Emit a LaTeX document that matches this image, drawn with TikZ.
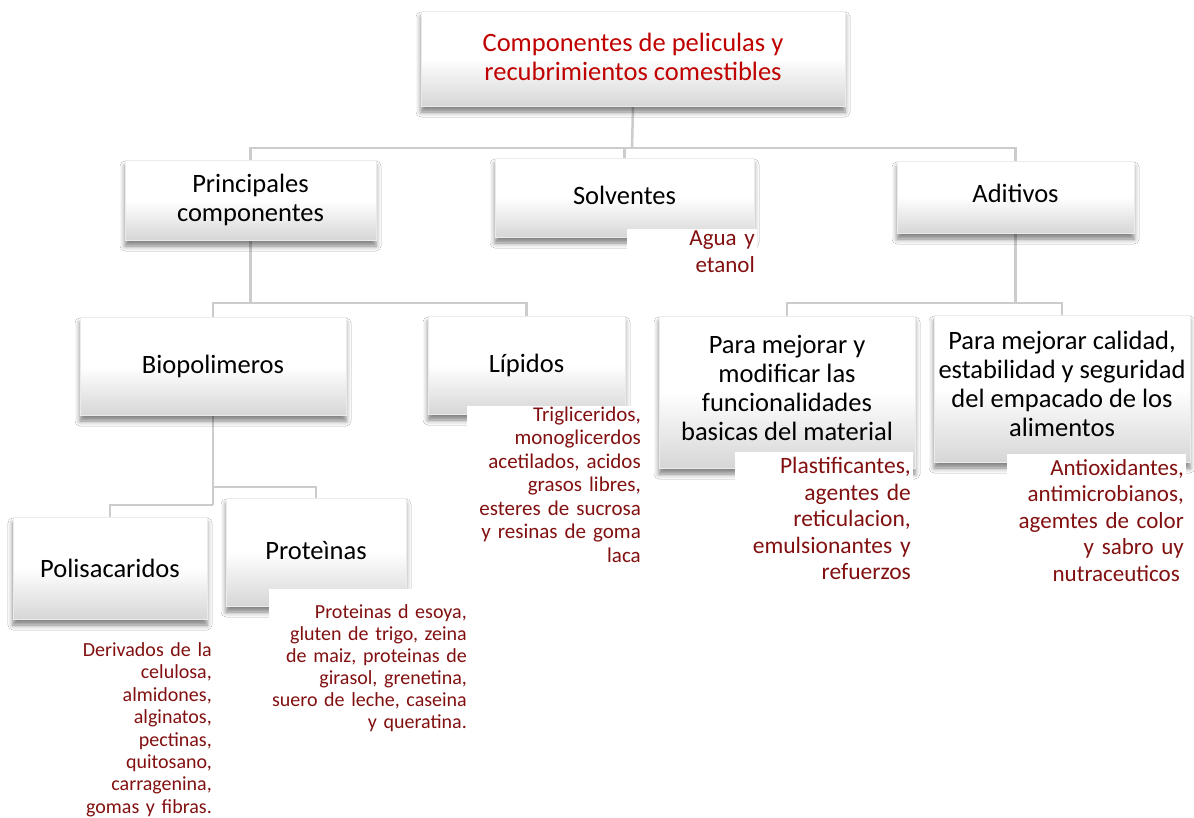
\documentclass[tikz,border=0pt]{standalone}
\usepackage{fontspec}
\setmainfont{Carlito}
\usetikzlibrary{shadows.blur, backgrounds}
\definecolor{rojo}{RGB}{192,0,0}
\definecolor{vino}{RGB}{130,16,16}
\newcommand{\letra}[2]{\fontsize{#1}{#2}\selectfont}
\newcommand{\subir}[1]{\rule[-#1]{0pt}{0pt}} % extra depth lifts the text a little
\tikzstyle{caja} = [rectangle, draw=black!8, top color=white, bottom color=black!16,
middle color=white, blur shadow={shadow xshift=0pt, shadow yshift=-6pt,
shadow blur radius=5pt, shadow opacity=50}, inner sep=2pt, align=center, font=\letra{26.5}{29}]
\tikzstyle{nota} = [rectangle, fill=white, text=vino, align=right, inner xsep=2pt, anchor=north east]
\tikzstyle{linea} = [line width=2.5pt, draw=black!20]

\begin{document}
\begin{tikzpicture}[x=1pt, y=-1pt]
        \useasboundingbox (0,0) rectangle (1194,817);

        % first levels
        \node (comp) [caja, minimum width=424pt, minimum height=95pt, text=rojo] at (633,58.5) {Componentes de peliculas y\\ recubrimientos comestibles\subir{4pt}};
        \node (prin) [caja, minimum width=251pt, minimum height=80pt] at (250.5,200) {Principales\\ componentes};
        \node (solv) [caja, minimum width=259pt, minimum height=79pt] at (624.5,197.5) {Solventes\subir{4pt}};
        \node (adit) [caja, minimum width=237pt, minimum height=72pt] at (1015.5,197) {Aditivos\subir{8pt}};

        \node (bio) [caja, minimum width=266pt, minimum height=98pt] at (213,366) {Biopolimeros\subir{2pt}};
        \node (lip) [caja, minimum width=197pt, minimum height=98pt] at (526.5,365) {Lípidos\subir{2pt}};
        \node (mej1) [caja, minimum width=256pt, minimum height=152pt] at (787,392) {Para mejorar y\\ modificar las\\ funcionalidades\\ basicas del material\subir{9pt}};
        \node (mej2) [caja, minimum width=256pt, minimum height=147pt] at (1062,388.5) {Para mejorar calidad,\\ estabilidad y seguridad\\ del empacado de los\\ alimentos\subir{9pt}};

        \node (pol) [caja, minimum width=194pt, minimum height=102pt] at (110,568) {Polisacaridos};
        \node (prot) [caja, minimum width=180pt, minimum height=108pt] at (316,552) {Proteìnas\subir{3pt}};

        % connectors behind the boxes
        \begin{scope}[on background layer]
        \fill [white] (0,0) rectangle (1194,817);
        \coordinate (J1) at (632,148);
        \draw [linea] (comp.south) -- (J1);
        \draw [linea] (J1) -| (prin.north);
        \draw [linea] (J1) -| (solv.north);
        \draw [linea] (J1) -| (adit.north);

        \coordinate (J2) at (250.5,303);
        \draw [linea] (prin.south) -- (J2);
        \draw [linea] (J2) -| (bio.north);
        \draw [linea] (J2) -| (lip.north);

        \coordinate (J3) at (1015.5,303);
        \draw [linea] (adit.south) -- (J3);
        \draw [linea] (J3) -| (mej1.north);
        \draw [linea] (J3) -| (mej2.north);

        \coordinate (J4) at (213,487); % Proteinas branch
        \coordinate (J5) at (213,505); % Polisacaridos branch
        \draw [linea] (bio.south) -- (J5);
        \draw [linea] (J4) -| (prot.north);
        \draw [linea] (J5) -| (pol.north);
        \end{scope}

        % notes under the boxes
        \node (agua) [nota, text width=126pt, inner ysep=1.5pt, font=\letra{23}{27}] at (757,229) {Agua y\\ etanol};
        \node (lipn) [nota, text width=172pt, inner ysep=0.5pt, font=\letra{21}{23.5}] at (643,406) {Trigliceridos,\\ monoglicerdos\\ acetilados, acidos\\ grasos libres,\\ esteres de sucrosa\\ y resinas de goma\\ laca};
        \node (plas) [nota, text width=174pt, inner ysep=5pt, font=\letra{23.5}{26.5}] at (913,452) {Plastificantes,\\ agentes de\\ reticulacion,\\ emulsionantes y\\ refuerzos};
        \node (anti) [nota, text width=175pt, inner ysep=5pt, font=\letra{23}{26.5}] at (1186,454) {Antioxidantes,\\ antimicrobianos,\\ agemtes de color\\ y sabro uy\\ nutraceuticos\hspace*{4pt}};
        \node (poln) [nota, text width=147pt, inner ysep=11.5pt, font=\letra{20}{22.4}] at (214,631) {Derivados de la\\ celulosa,\\ almidones,\\ alginatos,\\ pectinas,\\ quitosano,\\ carragenina,\\ gomas y fibras.};
        \node (protn) [nota, text width=196pt, inner ysep=15.5pt, font=\letra{20}{22}] at (469,589) {Proteinas d esoya,\\ gluten de trigo, zeina\\ de maiz, proteinas de\\ girasol, grenetina,\\ suero de leche, caseina\\ y queratina.};

\end{tikzpicture}
\end{document}
